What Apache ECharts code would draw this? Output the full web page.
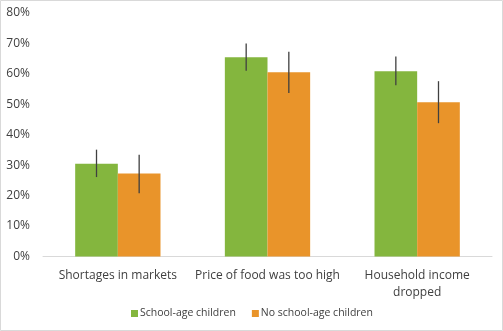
<!DOCTYPE html>
<html><head><meta charset="utf-8">
<script src="https://cdn.jsdelivr.net/npm/echarts@6/dist/echarts.min.js"></script>
<style>html,body{margin:0;padding:0;background:#fff}#c{width:503px;height:331px}</style>
</head><body><div id="c"></div>
<script>
var categories = ['Shortages in markets', 'Price of food was too high', 'Household income\ndropped'];
var seriesNames = ['School-age children', 'No school-age children'];
var schoolAge = [30.5, 65.5, 60.9];
var noSchoolAge = [27.3, 60.5, 50.7];
var schoolAgeLow = [26.1, 61.0, 56.3];
var schoolAgeHigh = [35.1, 70.0, 65.7];
var noSchoolAgeLow = [20.8, 53.7, 43.8];
var noSchoolAgeHigh = [33.4, 67.3, 57.6];
var yTicks = [0, 10, 20, 30, 40, 50, 60, 70, 80];

var colors = ['#84B63E', '#E9942A'];
var catGap = 0.43;
function errData(lo, hi) { return lo.map(function (v, i) { return [i, v, hi[i]]; }); }
function errSeries(lo, hi, side) {
  return {
    type: 'custom', z: 10, silent: true,
    data: errData(lo, hi),
    renderItem: function (params, api) {
      var band = api.size([1, 0])[0];
      var bw = band * (1 - catGap) / 2;
      var p1 = api.coord([api.value(0), api.value(1)]);
      var p2 = api.coord([api.value(0), api.value(2)]);
      var x = p1[0] + side * bw / 2;
      return { type: 'line', shape: { x1: x, y1: p1[1], x2: x, y2: p2[1] },
        style: { stroke: '#404040', lineWidth: 1.3 } };
    }
  };
}
var chart = echarts.init(document.getElementById('c'), null, { renderer: 'canvas' });
chart.setOption({
  animation: false,
  textStyle: { fontFamily: 'Open Sans' },
  graphic: [{ type: 'rect', shape: { x: 0.5, y: 0.5, width: 502, height: 330 },
    style: { fill: 'none', stroke: '#d9d9d9', lineWidth: 1 }, z: -1 }],
  grid: { left: 43, right: 11, top: 13, bottom: 74.5 },
  legend: {
    bottom: 7, left: 126, itemWidth: 7, itemHeight: 7, itemGap: 16,
    icon: 'rect',
    textStyle: { fontFamily: 'Open Sans', fontSize: 10.5, color: '#404040', padding: [0, 0, 0, -3] },
    data: seriesNames
  },
  xAxis: {
    type: 'category', data: categories,
    axisLine: { lineStyle: { color: '#d9d9d9', width: 1 } },
    axisTick: { show: false },
    axisLabel: { fontFamily: 'Open Sans', fontSize: 12, color: '#404040', margin: 11, lineHeight: 17, interval: 0 }
  },
  yAxis: {
    type: 'value', min: yTicks[0], max: yTicks[yTicks.length - 1], interval: 10,
    axisLine: { show: false }, axisTick: { show: false },
    splitLine: { show: false },
    axisLabel: { formatter: '{value}%', fontFamily: 'Open Sans', fontSize: 12, color: '#404040', margin: 13 }
  },
  series: [
    { name: seriesNames[0], type: 'bar', data: schoolAge, barGap: '0%', barCategoryGap: (catGap * 100) + '%', itemStyle: { color: colors[0] } },
    { name: seriesNames[1], type: 'bar', data: noSchoolAge, itemStyle: { color: colors[1] } },
    errSeries(schoolAgeLow, schoolAgeHigh, -1),
    errSeries(noSchoolAgeLow, noSchoolAgeHigh, 1)
  ]
});
</script></body></html>
